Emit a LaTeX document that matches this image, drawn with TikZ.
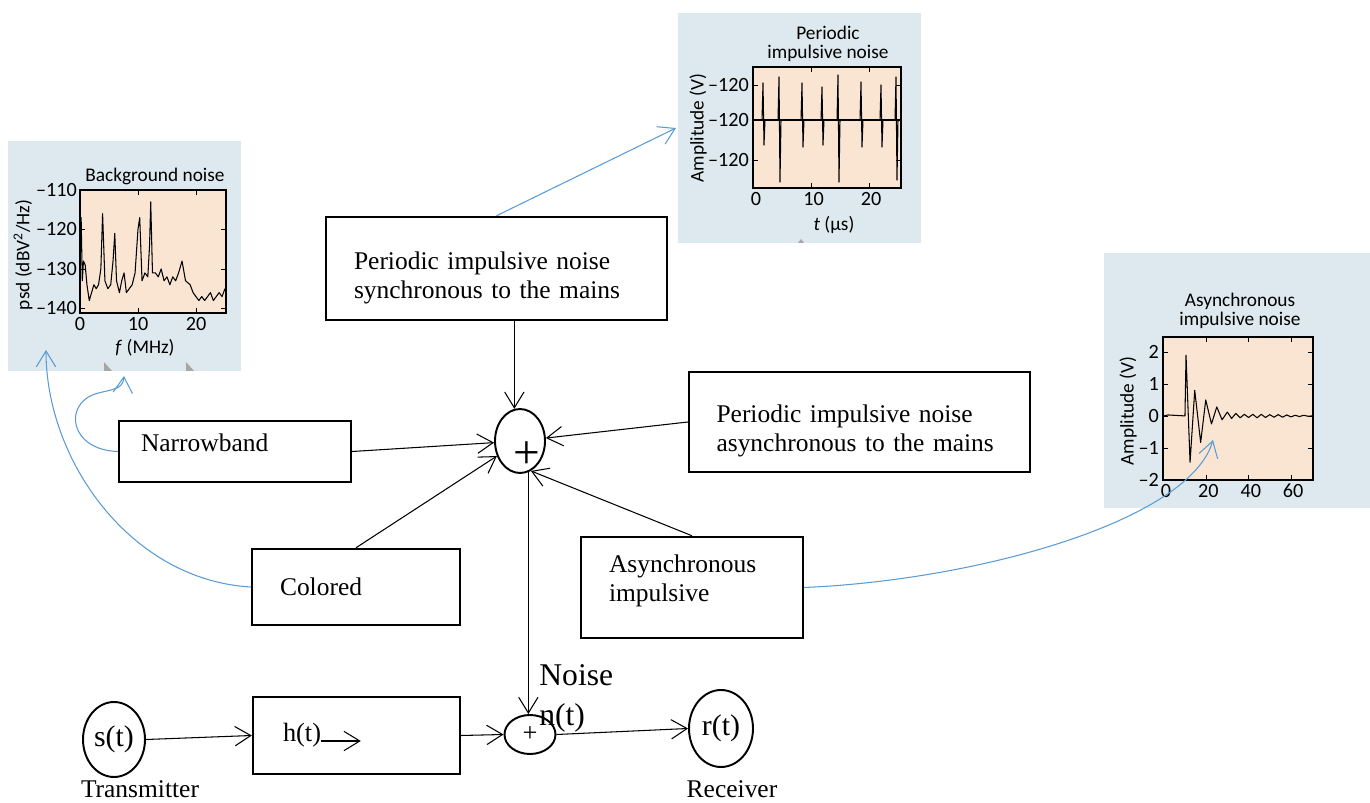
\documentclass[tikz,border=0pt]{standalone}
\usepackage{fontspec}
\setmainfont{Liberation Serif}
\newfontfamily\plotfont{Carlito}
\usetikzlibrary{arrows.meta,shapes.geometric}

\definecolor{insetbg}{RGB}{221,233,238}
\definecolor{plotbg}{RGB}{250,229,211}
\definecolor{linkblue}{RGB}{91,155,213}

% struts that push box text down (top) or up (bottom)
\newcommand\toppad[1]{\rule{0pt}{#1}}
\newcommand\botpad[1]{\rule[-#1]{0pt}{0pt}}

\tikzset{
    box/.style={draw, line width=1.4pt, align=left, inner xsep=0.56cm, inner ysep=0pt, font=\fontsize{14.5}{16.5}\selectfont},
    sig/.style={draw, ellipse, line width=1.1pt, inner sep=0pt},
    link/.style={->, line width=0.6pt},
    bluelink/.style={->, line width=0.6pt, draw=linkblue},
    plotframe/.style={draw, fill=plotbg, line width=0.85pt},
    ticklbl/.style={font=\plotfont\fontsize{11.5}{12}\selectfont, inner sep=1pt},
    axlbl/.style={font=\plotfont\fontsize{11}{10.5}\selectfont, inner sep=0pt, align=center},
    trace/.style={line width=0.6pt, line join=round},
}

\begin{document}
\begin{tikzpicture}[x=0.02cm, y=-0.02cm, >={Straight Barb[length=9pt,width=11pt]}]
    \useasboundingbox (0,0) rectangle (1370,803);

    % background noise inset
    \fill[insetbg] (8,141) rectangle (241,371);
    \draw[plotframe] (80,190) rectangle (226,313);
    \begin{scope}[shift={(1.6cm,-3.8cm)}, x=0.116cm, y=0.079cm]
        \draw[trace] plot coordinates {(0,-17) (0.2,-7) (0.4,-23) (0.6,-18) (0.9,-19) (1.2,-24) (1.6,-28) (2.0,-26)
            (2.4,-24) (2.8,-25) (3.2,-24) (3.6,-20) (3.9,-6) (4.3,-23) (4.8,-25) (5.3,-24) (5.7,-18) (6.0,-11)
            (6.3,-23) (6.8,-26) (7.2,-23) (7.6,-21) (8.0,-26) (8.5,-25) (9.0,-24) (9.5,-21) (10.0,-10) (10.3,-7)
            (10.7,-23) (11.2,-21) (11.7,-22) (12.0,-14) (12.2,-3) (12.5,-21) (13.0,-21) (13.5,-22) (14.0,-20)
            (14.5,-23) (15.0,-22) (15.5,-24) (16.0,-22) (16.5,-23) (17.0,-21) (17.6,-18) (18.2,-23) (19.0,-24)
            (19.5,-26) (20.0,-27) (20.5,-28) (21.0,-27) (21.5,-28) (22.0,-27) (22.5,-26) (23.0,-28) (23.5,-27)
            (24.0,-26) (24.5,-27) (25.0,-25)};
    \end{scope}
    \foreach \v in {120,130,140} {
        \draw (80,{190+(\v-110)*3.95}) -- ++(5,0);
        \draw (226,{190+(\v-110)*3.95}) -- ++(-5,0);
    }
    \foreach \f in {10,20} {
        \draw ({80+\f*5.8},313) -- ++(0,-5);
        \draw ({80+\f*5.8},190) -- ++(0,5);
    }
    \foreach \v in {110,120,130,140}
        \node[ticklbl, anchor=east] (bg\v) at (79,{190+(\v-110)*3.95}) {–\v};
    \foreach \f in {0,10,20}
        \node[ticklbl, anchor=north] (bf\f) at ({80+\f*5.8},315) {\f};
    \node[axlbl] (bgtitle) at (155,176) {Background noise};
    \node[axlbl] (bgx) at (145,348) {\textit{f} (MHz)};
    \node[axlbl, rotate=90] (bgy) at (23,255) {psd (dBV\textsuperscript{2}/Hz)};
    \fill[gray!70] (104,362) -- (112,371) -- (104,371) -- cycle;
    \fill[gray!70] (186,362) -- (194,371) -- (186,371) -- cycle;

    % periodic impulsive noise inset
    \fill[insetbg] (678,13) rectangle (921,243);
    \draw[plotframe] (753,67) rectangle (901,188);
    \draw[trace, line width=1pt] (753,120) -- (901,120);
    \foreach \x/\t/\b in {763/83/145, 779/77/182, 802/83/147, 822/87/145, 838/75/182, 861/82/147, 881/85/147, 896/77/180}
        \draw[trace] (\x-1,120) -- (\x,\t) -- (\x+1,\b) -- (\x+2,120);
    \foreach \y in {85,120,160} {
        \draw (753,\y) -- ++(5,0);
        \draw (901,\y) -- ++(-5,0);
        \node[ticklbl, anchor=east] (pt\y) at (751,\y) {–120};
    }
    \foreach \t in {10,20} {
        \draw ({754+\t*5.75},188) -- ++(0,-5);
        \draw ({754+\t*5.75},67) -- ++(0,5);
    }
    \foreach \t in {0,10,20}
        \node[ticklbl, anchor=north] (pf\t) at ({756+\t*5.75},190) {\t};
    \node[axlbl] (ptitle) at (828,44) {Periodic\\impulsive noise};
    \node[axlbl] (px) at (834,225) {\textit{t} (µs)};
    \node[axlbl, rotate=90] (py) at (698,128) {Amplitude (V)};
    \fill[gray!70] (801,239) -- (804,243) -- (798,243) -- cycle;

    % asynchronous impulsive noise inset
    \fill[insetbg] (1104,253) rectangle (1370,508);
    \draw[plotframe] (1163,337) rectangle (1313,480);
    \begin{scope}[shift={(23.28cm,-8.32cm)}, x=0.0424cm, y=0.64cm]
        \draw[trace] plot coordinates {(0,0) (2,0.03) (10,0) (10.5,1.9) (12.4,-1.45) (14.6,0.8) (17.4,-0.83) (19.8,0.5)
            (22.5,-0.25) (25,0.28) (27.5,-0.12) (30,0.12) (32,-0.08) (34,0.08) (36,-0.06) (38,0.05) (40,-0.05)
            (42,0.05) (44,-0.06) (46,0.05) (48,-0.05) (50,0.04) (52,-0.04) (54,0.04) (56,-0.04) (58,0.03)
            (60,-0.03) (62,0.02) (64,-0.02) (66,0.02) (68,-0.01) (70,0)};
    \end{scope}
    \foreach \a in {2,1,0,-1} {
        \draw (1163,{416-\a*32}) -- ++(5,0);
        \draw (1313,{416-\a*32}) -- ++(-5,0);
    }
    \foreach \t in {20,40,60} {
        \draw ({1164+\t*2.12},480) -- ++(0,-5);
        \draw ({1164+\t*2.12},337) -- ++(0,5);
    }
    \foreach \a/\s in {2/2,1/1,0/0,-1/–1,-2/–2}
        \node[ticklbl, anchor=east] (aa\a) at (1161,{416-\a*32}) {\s};
    \foreach \t in {0,20,40,60}
        \node[ticklbl, anchor=north] (af\t) at ({1166+\t*2.12},482) {\t};
    \node[axlbl] (atitle) at (1240,311) {Asynchronous\\impulsive noise};
    \node[axlbl, rotate=90] (ay) at (1128,411) {Amplitude (V)};

    % noise sources
    \node[box, minimum width=6.82cm, minimum height=2.06cm, text width=5.70cm] (sync) at (496.5,268.5) {\toppad{21pt}Periodic impulsive noise\\synchronous to the mains};
    \node[box, minimum width=6.82cm, minimum height=2.0cm, text width=5.72cm, inner xsep=0.55cm] (pasync) at (859.5,422) {\toppad{20pt}Periodic impulsive noise\\asynchronous to the mains};
    \node[box, minimum width=4.64cm, minimum height=1.22cm, text width=3.76cm, inner xsep=0.44cm] (narrow) at (235,451.5) {Narrowband\botpad{10pt}};
    \node[box, minimum width=4.16cm, minimum height=1.52cm, text width=3.04cm] (colored) at (356,587) {Colored};
    \node[box, minimum width=4.44cm, minimum height=2.02cm, text width=3.32cm] (asyncimp) at (692,587.5) {Asynchronous\\impulsive\botpad{10.5pt}};
    \node[sig, minimum width=1.0cm, minimum height=1.28cm] (sum) at (520,441) {};
    \node[font=\fontsize{27}{27}\selectfont, inner sep=0pt] (bigplus) at (527,455) {+};

    % channel
    \node[sig, minimum width=1.24cm, minimum height=1.5cm, font=\fontsize{17}{17}\selectfont] (src) at (114,739.5) {s(t)};
    \node[box, minimum width=4.14cm, minimum height=1.54cm, text width=2.94cm, inner xsep=0.6cm, font=\fontsize{15}{17}\selectfont] (channel) at (356.5,735.5) {h(t)};
    \node[sig, minimum width=1.02cm, minimum height=0.78cm, font=\fontsize{15}{15}\selectfont] (noisesum) at (530,734.5) {+};
    \node[sig, minimum width=1.28cm, minimum height=1.54cm, font=\fontsize{17}{17}\selectfont] (rcv) at (721,728.5) {r(t)};
    \node[font=\fontsize{14.5}{16}\selectfont] (txlbl) at (140,789) {Transmitter};
    \node[font=\fontsize{14.5}{16}\selectfont] (rxlbl) at (732,789) {Receiver};
    \node[anchor=west, align=left, inner sep=0pt, font=\fontsize{18}{22.8}\selectfont] (noiselbl) at (539,698) {Noise\\n(t)};

    \draw[link] (src.east) -- (channel.west);
    \draw[link] ([shift={(69,5.5)}]channel.west) -- ++(40,0);
    \draw[link] (channel.east) -- (noisesum.west);
    \draw[link] (noisesum.east) -- (rcv.west);

    \draw[link] (sync.south -| sum.100) -- (sum.100);
    \draw[link] (narrow.east) -- (sum);
    \draw[link] (pasync.west) -- (sum);
    \draw[link] (colored.north) -- (sum);
    \draw[link] (asyncimp.north) -- (sum.-70);
    \draw[link] (sum.-75) -- (sum.-75 |- noisesum.north);

    % links to the measured noise
    \coordinate (pin) at (676,128);
    \coordinate (bgin) at (124,376);
    \coordinate (bgin2) at (46,350);
    \coordinate (ain) at (1213,440);
    \draw[bluelink] (sync.north) -- (pin);
    \draw[bluelink] (narrow.west) .. controls (70,450) and (63,405) .. (95,394) .. controls (112,389) and (123,390) .. (bgin);
    \draw[bluelink] (colored.west) .. controls (130,580) and (46,460) .. (bgin2);
    \draw[bluelink] (asyncimp.east) .. controls (980,580) and (1190,520) .. (ain);
\end{tikzpicture}
\end{document}
